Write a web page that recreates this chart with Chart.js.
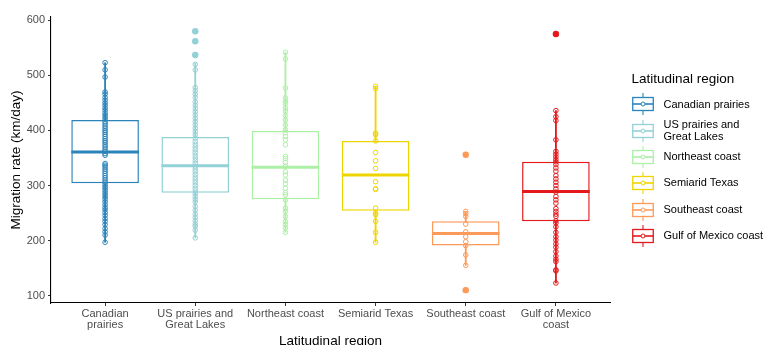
<!DOCTYPE html>
<html>
<head>
<meta charset="utf-8">
<script src="https://cdn.jsdelivr.net/npm/chart.js@4.4.1/dist/chart.umd.min.js"></script>
<style>
html,body{margin:0;padding:0;background:#fff;overflow:hidden;}
#wrap{position:relative;width:763px;height:345px;}
#legend{position:absolute;left:631.5px;top:71px;font-family:"Liberation Sans",Arial,sans-serif;color:#000;}
#legend .ttl{font-size:13.5px;line-height:16px;height:16px;white-space:nowrap;}
#legend .rows{margin-top:4.2px;}
#legend .row{display:flex;align-items:center;height:26.3px;}
#legend .row svg{flex:none;}
#legend .row span{margin-left:10px;font-size:11px;line-height:11.6px;white-space:nowrap;}
</style>
</head>
<body>
<div id="wrap">
<canvas id="c" width="763" height="345"></canvas>
<div id="legend"></div>
</div>
<script>
// ---- data ----
const categories = ['Canadian prairies', 'US prairies and Great Lakes', 'Northeast coast', 'Semiarid Texas', 'Southeast coast', 'Gulf of Mexico coast'];
const tickLabels = [['Canadian', 'prairies'], ['US prairies and', 'Great Lakes'], ['Northeast coast'], ['Semiarid Texas'], ['Southeast coast'], ['Gulf of Mexico', 'coast']];
const legendLabels = [['Canadian prairies'], ['US prairies and', 'Great Lakes'], ['Northeast coast'], ['Semiarid Texas'], ['Southeast coast'], ['Gulf of Mexico coast']];
const colors = ['#2b83ba', '#92d1d6', '#abf0a4', '#efd500', '#fd9a59', '#e3191c'];
const yTicks = [100, 200, 300, 400, 500, 600];

const q1 = [304, 287, 275, 254, 191, 235];
const medians = [361, 336, 333, 319, 213, 289];
const q3 = [419, 388, 399, 381, 235, 343];
const whiskerLow = [197, 205, 215, 197, 155, 123];
const whiskerHigh = [523, 522, 542, 480, 253, 436];

const canadianPrairies = [523, 510, 497, 470, 466, 460, 455, 450, 446, 441, 437, 432, 428, 424, 420, 416, 412, 408, 404, 400, 397, 393, 389, 385, 381, 378, 374, 370, 366, 362, 358, 355, 340, 337, 334, 330, 326, 322, 318, 314, 310, 306, 302, 298, 295, 291, 287, 283, 279, 275, 270, 265, 260, 256, 251, 246, 240, 235, 229, 222, 216, 210, 197];
const usPrairies = [580, 562, 537, 520, 510, 478, 472, 466, 460, 452, 446, 440, 434, 428, 422, 416, 410, 404, 398, 392, 386, 380, 375, 370, 365, 360, 355, 350, 345, 340, 335, 330, 325, 320, 315, 310, 305, 300, 295, 290, 285, 280, 275, 270, 262, 255, 248, 242, 236, 230, 226, 219, 205];
const northeastCoast = [542, 530, 477, 459, 453, 449, 441, 435, 427, 419, 410, 401, 396, 389, 383, 374, 353, 349, 342, 335, 325, 319, 310, 303, 295, 287, 283, 274, 259, 253, 244, 235, 229, 223, 215];
const semiaridTexas = [480, 476, 395, 392, 381, 360, 345, 331, 307, 294, 293, 259, 250, 247, 235, 215, 197];
const southeastCoast = [356, 253, 249, 244, 230, 216, 207, 198, 191, 174, 155, 110];
const gulfCoast = [575, 436, 425, 418, 383, 362, 357, 352, 347, 343, 338, 332, 326, 318, 312, 306, 300, 294, 288, 280, 274, 268, 258, 253, 248, 244, 236, 232, 225, 215, 207, 201, 194, 188, 180, 172, 166, 162, 147, 145, 123];
const regionValues = [canadianPrairies, usPrairies, northeastCoast, semiaridTexas, southeastCoast, gulfCoast];

const outliersUS = [580, 562, 537];
const outliersSoutheast = [356, 110];
const outliersGulf = [575];
const outlierSets = [[], outliersUS, [], [], outliersSoutheast, outliersGulf];

// ---- chart ----
const FONT = '"Liberation Sans", Arial, sans-serif';
const boxWidthFrac = 0.75;

const datasets = [];

// whiskers
datasets.push({
  type: 'bar',
  data: categories.map((c, i) => ({x: i, y: [whiskerLow[i], whiskerHigh[i]]})),
  backgroundColor: colors,
  borderWidth: 0,
  barThickness: 1.2,
  grouped: false,
  order: 6
});
// boxes
datasets.push({
  type: 'bar',
  data: categories.map((c, i) => ({x: i, y: [q1[i], q3[i]]})),
  backgroundColor: '#ffffff',
  borderColor: colors,
  borderWidth: 1.5,
  borderSkipped: false,
  grouped: false,
  categoryPercentage: 1,
  barPercentage: boxWidthFrac,
  order: 5
});
// medians
datasets.push({
  type: 'scatter',
  data: categories.map((c, i) => ({x: i, y: medians[i]})),
  pointStyle: 'line',
  borderColor: colors,
  pointBorderColor: colors,
  pointBorderWidth: 3,
  pointRadius: (ctx) => {
    const s = ctx.chart.scales.x;
    return Math.abs(s.getPixelForValue(boxWidthFrac / 2) - s.getPixelForValue(0));
  },
  order: 4
});
// outliers (filled)
outlierSets.forEach((vals, i) => {
  if (!vals.length) return;
  datasets.push({
    type: 'scatter',
    data: vals.map(v => ({x: i, y: v})),
    pointStyle: 'circle',
    pointRadius: 3.2,
    pointBorderWidth: 0,
    pointBackgroundColor: colors[i],
    order: 3
  });
});
// raw points (open circles)
regionValues.forEach((vals, i) => {
  datasets.push({
    type: 'scatter',
    data: vals.map(v => ({x: i, y: v})),
    pointStyle: 'circle',
    pointRadius: 2.3,
    pointBorderWidth: 1,
    pointBorderColor: colors[i],
    pointBackgroundColor: 'rgba(0,0,0,0)',
    order: 2
  });
});

new Chart(document.getElementById('c'), {
  type: 'bar',
  data: {datasets},
  options: {
    responsive: false,
    animation: false,
    events: [],
    layout: {padding: {top: 17, right: 153, bottom: 0, left: 0}},
    plugins: {legend: {display: false}, tooltip: {enabled: false}},
    scales: {
      x: {
        type: 'linear',
        min: -0.6,
        max: 5.6,
        offset: false,
        afterBuildTicks: (s) => { s.ticks = categories.map((c, i) => ({value: i})); },
        afterFit: (s) => { s.height = 42; },
        grid: {display: true, offset: false, drawOnChartArea: false, drawTicks: true, tickLength: 3, tickColor: '#333', tickWidth: 1},
        border: {display: true, color: '#000', width: 1.1},
        ticks: {
          callback: (v, idx) => tickLabels[idx],
          color: '#4d4d4d',
          font: {family: FONT, size: 11, lineHeight: 1},
          padding: 2.5,
          maxRotation: 0,
          autoSkip: false
        },
        title: {display: true, text: 'Latitudinal region', color: '#000', font: {family: FONT, size: 13.5, lineHeight: 1}, padding: {top: 0, bottom: -3.45}}
      },
      y: {
        type: 'linear',
        min: 86.7,
        max: 606,
        afterBuildTicks: (s) => { s.ticks = yTicks.map(v => ({value: v})); },
        afterFit: (s) => { s.width = 51; },
        grid: {display: true, offset: false, drawOnChartArea: false, drawTicks: true, tickLength: 3, tickColor: '#333', tickWidth: 1},
        border: {display: true, color: '#000', width: 1.1},
        ticks: {color: '#4d4d4d', font: {family: FONT, size: 11, lineHeight: 1}, padding: 3},
        title: {display: true, text: 'Migration rate (km/day)', color: '#000', font: {family: FONT, size: 13.5, lineHeight: 1}, padding: {top: 9.5, bottom: 0}}
      }
    }
  }
});

// ---- legend (HTML) ----
const lg = document.getElementById('legend');
const ttl = document.createElement('div');
ttl.className = 'ttl';
ttl.textContent = 'Latitudinal region';
lg.appendChild(ttl);
const rows = document.createElement('div');
rows.className = 'rows';
legendLabels.forEach((lab, i) => {
  const c = colors[i];
  const row = document.createElement('div');
  row.className = 'row';
  row.innerHTML =
    '<svg width="22" height="26" viewBox="0 0 22 26">' +
    '<line x1="11" y1="2" x2="11" y2="24" stroke="' + c + '" stroke-width="1.1"/>' +
    '<rect x="0.75" y="6.5" width="20.5" height="13" fill="#fff" stroke="' + c + '" stroke-width="1.3"/>' +
    '<line x1="0.75" y1="13" x2="21.25" y2="13" stroke="' + c + '" stroke-width="1.6"/>' +
    '<circle cx="11" cy="13" r="2" fill="#fff" stroke="' + c + '" stroke-width="1"/>' +
    '</svg>';
  const sp = document.createElement('span');
  lab.forEach((t, k) => {
    if (k) sp.appendChild(document.createElement('br'));
    sp.appendChild(document.createTextNode(t));
  });
  row.appendChild(sp);
  rows.appendChild(row);
});
lg.appendChild(rows);
</script>
</body>
</html>
